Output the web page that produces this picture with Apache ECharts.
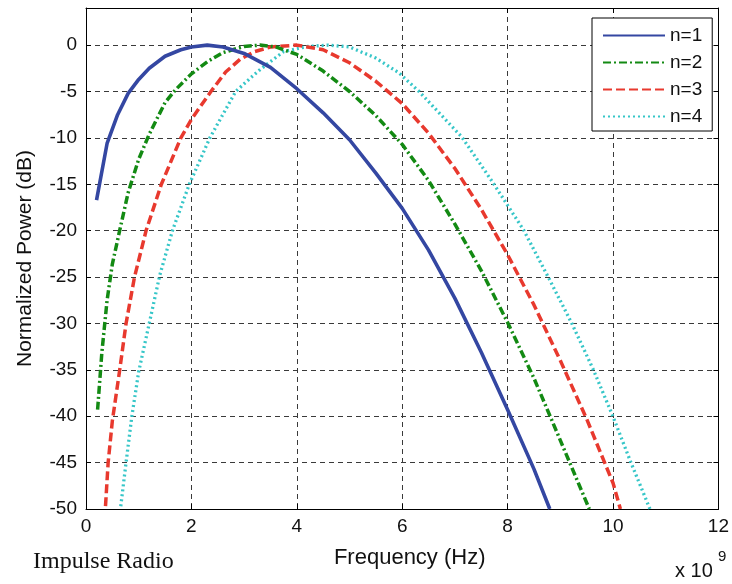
<!DOCTYPE html>
<html>
<head>
<meta charset="utf-8">
<script src="https://cdn.jsdelivr.net/npm/echarts@6/dist/echarts.min.js"></script>
<style>
html,body{margin:0;padding:0;background:#fff;}
#chart{width:732px;height:584px;}
</style>
</head>
<body>
<div id="chart"></div>
<script>
// ---- data (frequency in units of 1e9 Hz, power in dB) ----
const seriesNames = ['n=1', 'n=2', 'n=3', 'n=4'];

const freqN1  = [0.2, 0.4, 0.6, 0.8, 1.0, 1.2, 1.5, 1.8, 2.0, 2.3, 2.6, 3.0, 3.5, 4.0, 4.5, 5.0, 5.5, 6.0, 6.5, 7.0, 7.5, 8.0, 8.5, 8.8];
const powerN1 = [-16.7, -10.6, -7.5, -5.2, -3.7, -2.5, -1.2, -0.5, -0.2, 0, -0.2, -0.9, -2.4, -4.7, -7.3, -10.2, -13.8, -17.6, -22.1, -27.3, -33.1, -39.3, -45.7, -50];

const freqN2  = [0.22, 0.3, 0.4, 0.5, 0.65, 0.8, 1.0, 1.2, 1.5, 1.7, 2.0, 2.3, 2.6, 3.0, 3.3, 3.6, 4.0, 4.5, 5.0, 5.5, 6.0, 6.5, 7.0, 7.5, 8.0, 8.5, 9.0, 9.55];
const powerN2 = [-39.3, -33.2, -27.5, -23.6, -19.7, -15.9, -12.3, -9.6, -6.2, -4.8, -3.1, -1.8, -0.8, -0.15, 0, -0.2, -1.0, -2.8, -5.0, -7.6, -10.7, -14.6, -19.3, -24.3, -29.9, -35.9, -42.6, -50];

const freqN3  = [0.37, 0.42, 0.5, 0.64, 0.76, 0.92, 1.14, 1.43, 1.8, 2.0, 2.37, 2.65, 2.93, 3.2, 3.5, 4.0, 4.5, 5.0, 5.5, 6.0, 6.5, 7.0, 7.5, 8.0, 8.5, 9.0, 9.5, 10.0, 10.14];
const powerN3 = [-49.7, -45, -40.5, -35, -30, -25, -20, -15, -10, -8.0, -5, -2.9, -1.5, -0.7, -0.2, 0, -0.5, -1.9, -3.9, -6.3, -9.5, -13.3, -17.7, -22.6, -28.0, -34.0, -40.3, -47.2, -50];

const freqN4  = [0.66, 0.76, 0.87, 1.0, 1.2, 1.4, 1.64, 1.96, 2.35, 2.84, 3.11, 3.31, 3.75, 4.2, 4.6, 5.0, 5.5, 5.94, 6.32, 6.7, 7.13, 7.73, 8.3, 8.77, 9.21, 9.62, 9.99, 10.34, 10.7];
const powerN4 = [-49.7, -45, -40, -35.2, -30, -24.8, -20, -15, -10, -5, -3.6, -2.6, -0.7, -0.15, 0, -0.2, -1.4, -3.0, -5, -7.3, -9.9, -14.9, -19.9, -25, -29.9, -34.9, -39.9, -45, -50];

const xTicks = [0, 2, 4, 6, 8, 10, 12];
const yTicks = [-50, -45, -40, -35, -30, -25, -20, -15, -10, -5, 0];

// ---- build ----
function pairs(xs, ys) { return xs.map((x, i) => [x, ys[i]]); }

const colors = ['#3447a2', '#138a13', '#e8392e', '#36c6c8'];
const dashTypes = ['solid', [8, 3, 2, 3], [9, 4], [2, 3]];
const widths = [3.6, 3.5, 3.5, 3.3];
const dataSets = [pairs(freqN1, powerN1), pairs(freqN2, powerN2), pairs(freqN3, powerN3), pairs(freqN4, powerN4)];

const FONT = '"Liberation Sans", Arial, Helvetica, sans-serif';
const gridStyle = { show: true, lineStyle: { color: '#3a3a3a', width: 1, type: [5, 4] } };

const chart = echarts.init(document.getElementById('chart'), null, { renderer: 'canvas' });

const option = {
  animation: false,
  backgroundColor: '#ffffff',
  grid: { left: 86, right: 10, top: 8, bottom: 75, containLabel: false },
  legend: {
    orient: 'vertical',
    left: 592, top: 18,
    padding: [8, 10, 5, 10],
    itemGap: 8,
    itemWidth: 62,
    itemHeight: 14,
    itemStyle: { opacity: 0 },
    backgroundColor: '#ffffff',
    borderColor: '#000000',
    borderWidth: 1,
    borderRadius: 0,
    textStyle: { fontFamily: FONT, fontSize: 19, color: '#111' },
    data: seriesNames
  },
  xAxis: [
    {
      type: 'value', min: xTicks[0], max: xTicks[xTicks.length - 1], interval: 2,
      position: 'bottom',
      name: 'Frequency (Hz)', nameLocation: 'middle', nameGap: 38,
      nameTextStyle: { fontFamily: FONT, fontSize: 22, color: '#111', padding: [0, 0, 0, 15] },
      axisLine: { show: true, onZero: false, lineStyle: { color: '#000', width: 1 } },
      axisTick: { show: true, inside: true, length: 5, lineStyle: { color: '#000' } },
      axisLabel: { fontFamily: FONT, fontSize: 19, color: '#111', margin: 8 },
      splitLine: gridStyle
    },
    {
      type: 'value', min: xTicks[0], max: xTicks[xTicks.length - 1], interval: 2,
      position: 'top',
      axisLine: { show: true, onZero: false, lineStyle: { color: '#000', width: 1 } },
      axisTick: { show: true, inside: true, length: 5, lineStyle: { color: '#000' } },
      axisLabel: { show: false },
      splitLine: { show: false }
    }
  ],
  yAxis: [
    {
      type: 'value', min: yTicks[0], max: 4, interval: 5,
      position: 'left',
      name: 'Normalized Power (dB)', nameLocation: 'middle', nameGap: 50,
      nameTextStyle: { fontFamily: FONT, fontSize: 21, color: '#111' },
      axisLine: { show: true, onZero: false, lineStyle: { color: '#000', width: 1 } },
      axisTick: { show: true, inside: true, length: 5, lineStyle: { color: '#000' } },
      axisLabel: {
        fontFamily: FONT, fontSize: 19, color: '#111', margin: 9, showMaxLabel: false,
        formatter: v => (yTicks.indexOf(v) >= 0 ? String(v) : '')
      },
      splitLine: gridStyle
    },
    {
      type: 'value', min: yTicks[0], max: 4, interval: 5,
      position: 'right',
      axisLine: { show: true, onZero: false, lineStyle: { color: '#000', width: 1 } },
      axisTick: { show: true, inside: true, length: 5, lineStyle: { color: '#000' } },
      axisLabel: { show: false },
      splitLine: { show: false }
    }
  ],
  series: seriesNames.map((name, i) => ({
    name: name,
    type: 'line',
    xAxisIndex: 0, yAxisIndex: 0,
    data: dataSets[i],
    showSymbol: false,
    symbol: 'none',
    smooth: false,
    clip: true,
    color: colors[i],
    lineStyle: { color: colors[i], width: widths[i], type: dashTypes[i], cap: 'butt', join: 'round' },
    z: 10 - i
  })),
  graphic: [
    {
      type: 'text', left: 33, top: 550,
      style: { text: 'Impulse Radio', font: '24px "Liberation Serif", "Times New Roman", serif', fill: '#111' }
    },
    {
      type: 'text', left: 675, top: 561,
      style: { text: 'x 10', font: '20px "Liberation Sans", Arial, sans-serif', fill: '#111' }
    },
    {
      type: 'text', left: 718, top: 549,
      style: { text: '9', font: '15px "Liberation Sans", Arial, sans-serif', fill: '#111' }
    }
  ]
};

chart.setOption(option);
</script>
</body>
</html>
